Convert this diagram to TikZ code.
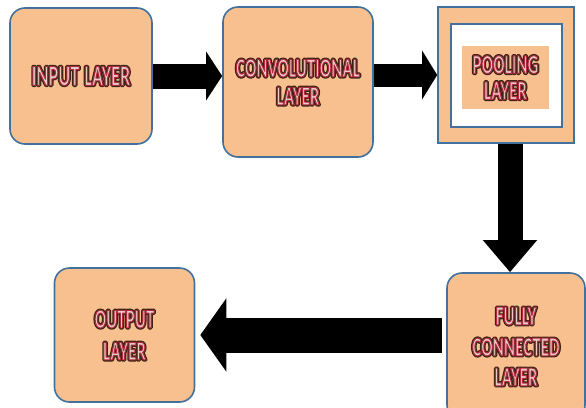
\documentclass[tikz,border=0pt]{standalone}
\usepackage{fontspec}
\usetikzlibrary{arrows.meta}
\newfontfamily\wafont[FakeStretch=0.63]{Carlito Bold}
\definecolor{peach}{HTML}{F8C08E}
\definecolor{boxblue}{HTML}{41719C}
\definecolor{wapink}{HTML}{EDC8CB}
\newcommand{\latext}[1]{\rlap{\special{pdf:literal direct 0.24 0.14 0.09 RG 1 Tr 3.4 w 1 j}#1\special{pdf:literal direct 0 Tr}}%
  \textcolor{wapink}{\special{pdf:literal direct 0.68 0.18 0.24 RG 2 Tr 1.0 w 1 j}#1\special{pdf:literal direct 0 Tr}}}
\begin{document}
\begin{tikzpicture}[x=1pt,y=-1pt]
  \tikzstyle{layer}=[rectangle,rounded corners=15pt,draw=boxblue,line width=1.6pt,fill=peach,
    align=center,inner sep=0pt,font=\wafont\fontsize{27}{28}\selectfont]
  \tikzstyle{bigarrow}=[draw=black,line cap=butt]
  \useasboundingbox (0,0) rectangle (586,407);

  \node[layer,minimum width=142pt,minimum height=136pt] (L_in) at (81,76)
    {\fontsize{29}{30}\selectfont\latext{INPUT\hspace{5pt}LAYER}};
  \node[layer,minimum width=150pt,minimum height=150pt] (L_conv) at (298,82)
    {\latext{CONVOLUTIONAL}\\\latext{LAYER}};

  \node[layer,rounded corners=0pt,minimum width=136pt,minimum height=136pt] (L_pool) at (506,75) {};
  \node[layer,rounded corners=0pt,fill=white,minimum width=111pt,minimum height=103pt] (L_poolw) at (506.5,75.5) {};
  \node[layer,rounded corners=0pt,draw=none,minimum width=87pt,minimum height=63pt] (L_poolt) at (505.5,77.5)
    {\latext{POOLING}\\[-2pt]\latext{LAYER}};

  \node[layer,minimum width=138pt,minimum height=147pt] (L_fc) at (516,346.5)
    {\latext{FULLY}\\[3pt]\latext{CONNECTED}\\[2pt]\latext{LAYER}};
  \node[layer,minimum width=140pt,minimum height=134pt] (L_out) at (124.5,335)
    {\latext{OUTPUT}\\[4pt]\latext{LAYER}};

  \draw[bigarrow,line width=25pt,-{Triangle[width=48pt,length=16pt]}] (L_in.east) -- (L_conv.west |- L_in.east);
  \draw[bigarrow,line width=23pt,-{Triangle[width=48pt,length=15pt]}] (L_conv.east |- L_pool.west) -- (L_pool.west);
  \draw[bigarrow,line width=25pt,-{Triangle[width=52pt,length=32pt]}] ([xshift=4pt]L_pool.south) -- ([xshift=4pt]L_pool.south |- L_fc.north);
  \draw[bigarrow,line width=35pt,shorten <=4pt,shorten >=5pt,-{Triangle[width=72pt,length=26pt]}] (L_fc.west |- L_out.east) -- (L_out.east);

\end{tikzpicture}
\end{document}
